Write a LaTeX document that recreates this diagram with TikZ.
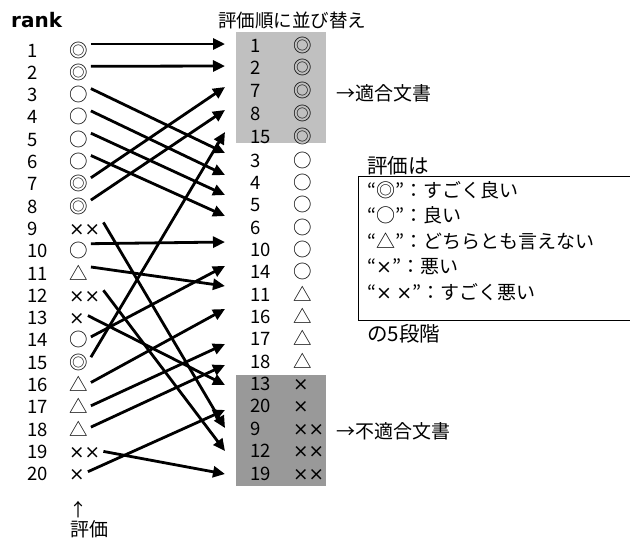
\documentclass[tikz,border=0pt]{standalone}
\usepackage{fontspec}
\setmainfont{Noto Sans CJK JP}
\newfontfamily\dvfont{DejaVu Sans}
\usetikzlibrary{arrows.meta}
\definecolor{goodgray}{HTML}{C0C0C0}
\definecolor{badgray}{HTML}{999999}
\newcommand{\crs}{{\dvfont ×}}
\begin{document}
\begin{tikzpicture}[x=1pt,y=-1pt,
  txt/.style={inner sep=0pt, anchor=base west, font=\fontsize{18.5}{20}\selectfont},
  lab/.style={inner sep=0pt, anchor=base west, font=\fontsize{19}{21}\selectfont},
  biglab/.style={inner sep=0pt, anchor=base west, font=\fontsize{20.5}{22}\selectfont},
  arr/.style={line width=2.8pt, -{Triangle[length=12pt,width=11pt]}},
  legendbox/.style={draw=black, line width=1.3pt, inner sep=0pt, anchor=north west, minimum width=300pt, minimum height=144pt},
]
\useasboundingbox (0,0) rectangle (630,542);
% shaded groups
\fill[goodgray] (236,32) rectangle (326,143);
\fill[badgray] (236,375) rectangle (326,486);
% headings
\node[inner sep=0pt, anchor=base west, font=\dvfont\bfseries\fontsize{20}{22}\selectfont] (rank) at (11,27) {rank};
\node[txt] (title) at (218,27) {評価順に並び替え};
% left column
\foreach \i/\s in {1/◎,2/◎,3/○,4/○,5/○,6/○,7/◎,8/◎,9/\crs\crs,10/○,11/△,12/\crs\crs,13/\crs,14/○,15/◎,16/△,17/△,18/△,19/\crs\crs,20/\crs}{
  \pgfmathsetmacro\yb{57+(\i-1)*22.3}
  \node[txt] (n\i) at (27,\yb) {\i};
  \node[txt] (s\i) at (69,\yb) {\s};
}
% right column (sorted)
\foreach \d/\s [count=\k from 0] in {1/◎,2/◎,7/◎,8/◎,15/◎,3/○,4/○,5/○,6/○,10/○,14/○,11/△,16/△,17/△,18/△,13/\crs,20/\crs,9/\crs\crs,12/\crs\crs,19/\crs\crs}{
  \pgfmathsetmacro\yb{\k<5 ? 52+22.75*\k : 167+(\k-5)*22.36}
  \node[txt] (r\d) at (250,\yb) {\d};
  \node[txt] (rs\d) at (293,\yb) {\s};
}
% arrow tips
\foreach \d/\ty in {1/44,2/66,7/87,8/110,15/132,3/153,4/175,5/195,6/216,10/242,14/266,11/286,16/309,17/344,18/365,13/385,20/410,9/428,12/451,19/474}{
  \coordinate (t\d) at (225,\ty);
}
\foreach \i/\sh in {1/13,2/13,3/13,4/13,5/13,6/13,7/13,8/13,9/13,10/14,11/13,12/12,13/9,14/10,15/12,16/9,17/8,18/9,19/7,20/9}{
  \draw[arr] ([xshift=3pt,yshift=\sh pt]s\i.base east) -- (t\i);
}
% group labels
\node[lab] (good) at (336,100) {→適合文書};
\node[lab] (bad) at (336,438) {→不適合文書};
% legend
\node[biglab] (legendtitle) at (367,173) {評価は};
\node[legendbox] (legend) at (358,176) {};
\node[lab] (l1) at (367,197) {“◎”：すごく良い};
\node[lab] (l2) at (367,222.5) {“○”：良い};
\node[lab] (l3) at (367,248) {“△”：どちらとも言えない};
\node[lab] (l4) at (367,273.5) {“\crs”：悪い};
\node[lab] (l5) at (367,299) {“\crs{} \crs”：すごく悪い};
\node[biglab] (levels) at (367,341) {の5段階};
% bottom label
\node[inner sep=0pt, anchor=base, font=\fontsize{18}{20}\selectfont] (up) at (78,516) {↑};
\node[lab] (hyoka) at (70,536) {評価};
\end{tikzpicture}
\end{document}
